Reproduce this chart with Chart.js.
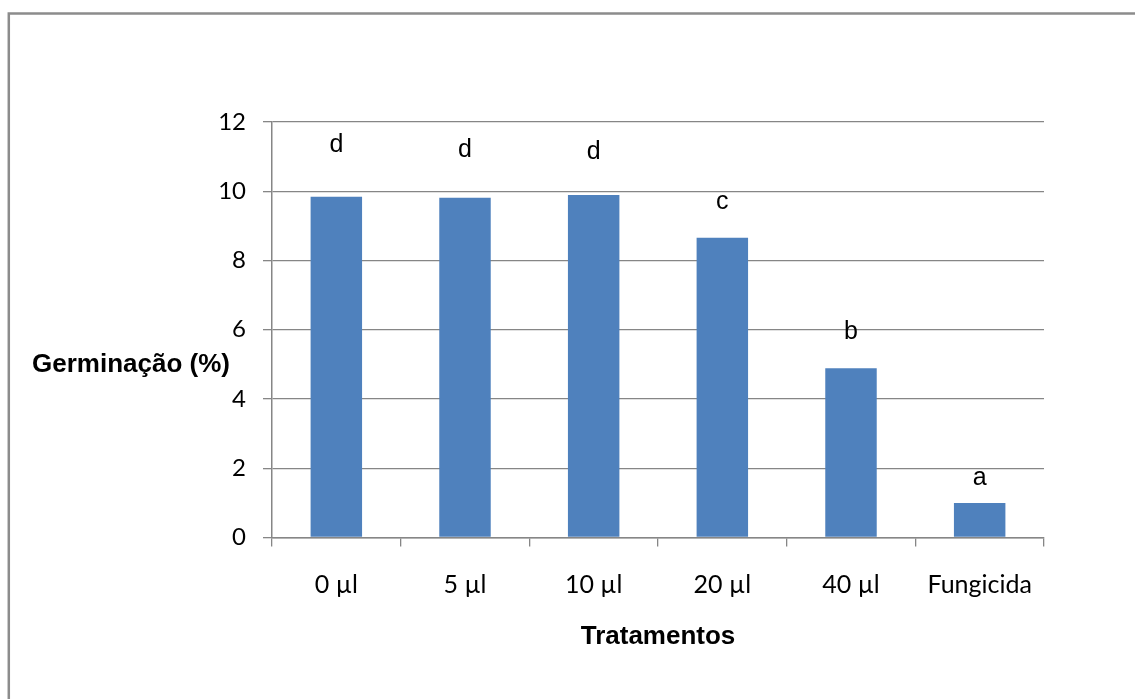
<!DOCTYPE html>
<html>
<head>
<meta charset="utf-8">
<script src="https://cdn.jsdelivr.net/npm/chart.js@4.4.1/dist/chart.umd.min.js"></script>
<style>
  body { margin: 0; background: #fff; }
  canvas { display: block; }
</style>
</head>
<body>
<canvas id="myChart" width="1135" height="699"></canvas>
<script>
// data
const treatments = ['0 µl', '5 µl', '10 µl', '20 µl', '40 µl', 'Fungicida'];
const germination = [9.84, 9.81, 9.89, 8.66, 4.89, 1.0];
const letters = ['d', 'd', 'd', 'c', 'b', 'a'];
const letterLevels = [11.34, 11.2, 11.14, 9.7, 5.94, 1.71];
const yTicks = [0, 2, 4, 6, 8, 10, 12];

const gridGray = '#868686';

// frame around the chart + horizontal axis titles + significance letters
const extras = {
    id: 'extras',
    beforeDraw(chart) {
        const c = chart.ctx;
        c.save();
        c.fillStyle = '#fff';
        c.fillRect(0, 0, chart.width, chart.height);
        c.strokeStyle = '#8c8c8c';
        c.lineWidth = 2.5;
        c.strokeRect(8.8, 13.5, chart.width + 20, chart.height + 20);
        c.restore();
    },
    afterDatasetsDraw(chart) {
        const c = chart.ctx;
        const x = chart.scales.x;
        const y = chart.scales.y;
        const area = chart.chartArea;
        c.save();
        c.fillStyle = '#000';
        c.textAlign = 'center';
        c.textBaseline = 'middle';
        c.font = '25px "Liberation Sans", Arial, sans-serif';
        letters.forEach((l, i) => {
            c.fillText(l, x.getPixelForValue(i), y.getPixelForValue(letterLevels[i]));
        });
        c.font = 'bold 26px "Liberation Sans", Arial, sans-serif';
        c.fillText('Germinação (%)', 131, 365);
        c.fillText('Tratamentos', (area.left + area.right) / 2, 637);
        c.restore();
    }
};

const ctx = document.getElementById('myChart').getContext('2d');
const myChart = new Chart(ctx, {
    type: 'bar',
    data: {
        labels: treatments,
        datasets: [{
            data: germination,
            backgroundColor: '#4f81bd',
            borderWidth: 0,
            barPercentage: 0.4,
            categoryPercentage: 1.0
        }]
    },
    options: {
        responsive: false,
        animation: false,
        layout: { padding: { left: 0, top: 122, right: 91, bottom: 0 } },
        plugins: {
            legend: { display: false },
            tooltip: { enabled: false }
        },
        scales: {
            x: {
                offset: true,
                grid: {
                    offset: true,
                    drawOnChartArea: false,
                    color: gridGray,
                    lineWidth: 1.3,
                    tickLength: 9
                },
                border: { color: gridGray, width: 1.5 },
                ticks: {
                    color: '#000',
                    padding: 23,
                    font: { family: 'Lato', size: 25 },
                    maxRotation: 0
                },
                afterFit(scale) { scale.height = 161.5; }
            },
            y: {
                min: 0,
                max: 12,
                afterBuildTicks(scale) {
                    scale.ticks = yTicks.map(v => ({ value: v }));
                },
                grid: {
                    color: gridGray,
                    lineWidth: 1.3,
                    tickLength: 9
                },
                border: { color: gridGray, width: 1.5 },
                ticks: {
                    color: '#000',
                    padding: 17,
                    font: { family: 'Lato', size: 24 }
                },
                afterFit(scale) { scale.width = 272; }
            }
        }
    },
    plugins: [extras]
});
</script>
</body>
</html>
